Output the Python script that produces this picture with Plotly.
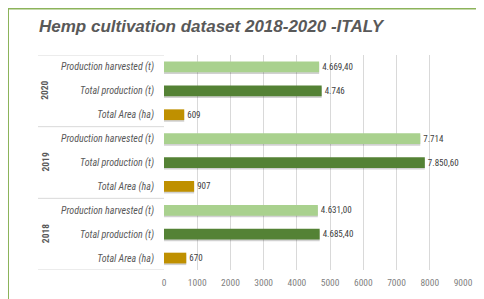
import plotly.graph_objects as go

years = ["2018", "2019", "2020"]
measures = ["Total Area (ha)", "Total production (t)", "Production harvested (t)"]

total_area = [670, 907, 609]
total_production = [4685.40, 7850.60, 4746]
production_harvested = [4631.00, 7714, 4669.40]

area_labels = ["670", "907", "609"]
production_labels = ["4.685,40", "7.850,60", "4.746"]
harvested_labels = ["4.631,00", "7.714", "4.669,40"]

x_ticks = [0, 1000, 2000, 3000, 4000, 5000, 6000, 7000, 8000, 9000]

title_text = "Hemp cultivation dataset 2018-2020 -ITALY"

# page renders with an 8px body offset; layout is expressed in window pixels
OFF = 8
W, H = 484, 299
PL, PR, PT, PB = 164, 463, 55, 270  # plot box in window px
L, T = PL - OFF, PT - OFF
R, B = W - (PR - OFF), H - (PB - OFF)
pw, ph = PR - PL, PB - PT

def px_x(p):
    return (p - PL) / pw

def px_y(p):
    return (PB - p) / ph

cats = [f"{y}|{m}" for y in years for m in measures]

def cat(y, m):
    return f"{y}|{m}"

FONT = "Liberation Sans Narrow, Roboto Condensed, Liberation Sans, Arial, sans-serif"
TFONT = "Liberation Sans, Arial, sans-serif"
BW = 0.45

fig = go.Figure()
series = [
    ("Total Area (ha)", total_area, area_labels, "#bf9000"),
    ("Total production (t)", total_production, production_labels, "#548235"),
    ("Production harvested (t)", production_harvested, harvested_labels, "#a9d18e"),
]
# soft drop shadows
for m, vals, labs, col in series:
    fig.add_trace(go.Bar(
        y=[cat(y, m) for y in years], x=vals, orientation="h",
        marker=dict(color="rgba(0,0,0,0.18)", line=dict(width=0)),
        width=BW, offset=-BW / 2 - 0.07, hoverinfo="skip", showlegend=False,
    ))
for m, vals, labs, col in series:
    fig.add_trace(go.Bar(
        y=[cat(y, m) for y in years], x=vals, orientation="h",
        marker=dict(color=col, line=dict(width=0)),
        width=BW, offset=-BW / 2, text=labs, textposition="outside", cliponaxis=False,
        textfont=dict(size=9, color="#404040", family=FONT),
        showlegend=False,
    ))

shapes = [
    dict(type="rect", xref="paper", yref="paper",
         x0=px_x(8), x1=px_x(510), y0=px_y(330), y1=px_y(8.5),
         line=dict(color="#8cb35a", width=2), fillcolor="white", layer="below"),
]
for yv in [-0.5, 2.5, 5.5, 8.5]:
    shapes.append(dict(type="line", xref="paper", yref="y",
                       x0=px_x(38), x1=0, y0=yv, y1=yv,
                       line=dict(color="#d9d9d9", width=1)))

annotations = [
    dict(text="<b><i>" + title_text + "</i></b>", xref="paper", yref="paper",
         x=px_x(212), y=px_y(27), xanchor="center", yanchor="middle",
         showarrow=False, font=dict(size=17, color="#595959", family=TFONT)),
]
for i, y in enumerate(years):
    annotations.append(dict(text="<b>" + y + "</b>", xref="paper", yref="y",
                            x=px_x(45), y=i * 3 + 1, textangle=-90,
                            xanchor="center", yanchor="middle", showarrow=False,
                            font=dict(size=9.5, color="#595959", family=FONT)))

fig.update_layout(
    width=W, height=H,
    margin=dict(l=L, r=R, t=T, b=B, pad=0, autoexpand=False),
    paper_bgcolor="#eeeeee", plot_bgcolor="rgba(0,0,0,0)",
    barmode="overlay",
    shapes=shapes, annotations=annotations,
    xaxis=dict(range=[0, 9000], tickvals=x_ticks, ticktext=[str(v) for v in x_ticks],
               showgrid=True, gridcolor="#d9d9d9", gridwidth=1, zeroline=False,
               showline=False, ticks="", ticklabelstandoff=5, automargin=False,
               tickfont=dict(size=9.5, color="#7f7f7f", family=FONT), fixedrange=True),
    yaxis=dict(type="category", categoryorder="array", categoryarray=cats,
               range=[-0.5, 8.5], tickvals=cats, automargin=False,
               ticktext=["<i>" + c.split("|")[1] + "</i>" for c in cats],
               showgrid=False, zeroline=False, showline=False, ticks="",
               ticklabelstandoff=9,
               tickfont=dict(size=10, color="#595959", family=FONT)),
)

fig.write_html("out.html")
